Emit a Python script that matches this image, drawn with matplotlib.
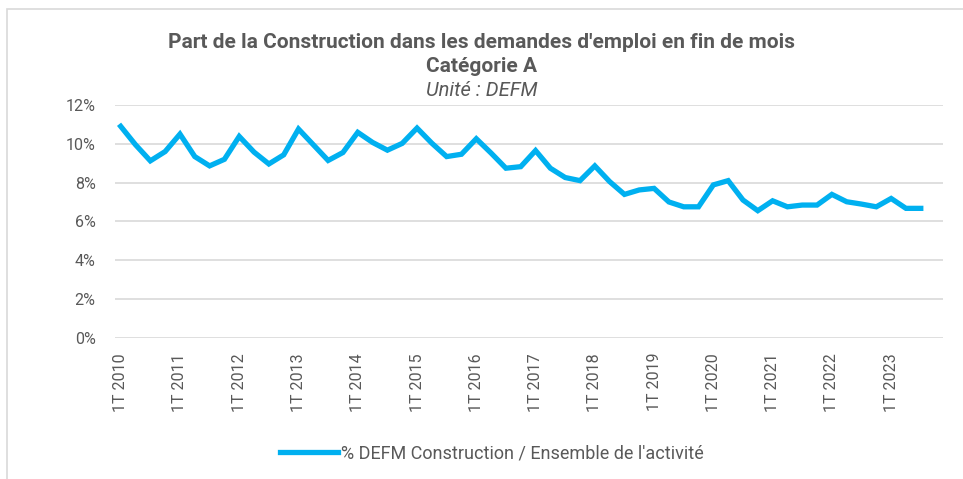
import matplotlib
matplotlib.use("Agg")
from matplotlib import pyplot as plt
from matplotlib.ticker import FuncFormatter
import numpy as np

# Quarterly share (%) of Construction in job seekers, 1T 2010 -> 3T 2023
years = list(range(2010, 2024))
quarters = [f"{q}T {y}" for y in years for q in (1, 2, 3, 4)][:55]
share = [10.9, 9.95, 9.12, 9.6,
         10.5, 9.34, 8.86, 9.2,
         10.38, 9.57, 8.96, 9.43,
         10.76, 9.95, 9.14, 9.55,
         10.59, 10.07, 9.67, 10.02,
         10.81, 10.03, 9.34, 9.46,
         10.26, 9.52, 8.74, 8.82,
         9.65, 8.74, 8.26, 8.1,
         8.86, 8.05, 7.39, 7.62,
         7.7, 7.0, 6.75, 6.75,
         7.88, 8.1, 7.1, 6.55,
         7.06, 6.75, 6.84, 6.84,
         7.39, 7.01, 6.89, 6.75,
         7.18, 6.67, 6.67]
series_label = "% DEFM Construction / Ensemble de l'activité"

grey = "#595959"
blue = "#00B0F0"
plt.rcParams['font.family'] = ['Roboto', 'DejaVu Sans']

fig = plt.figure(figsize=(9.63, 4.79), dpi=100)
ax = fig.add_axes([115/963, 1 - 337.7/479, 828/963, 232.7/479])

x = np.arange(len(share))
line, = ax.plot(x, share, color=blue, lw=3.8, solid_joinstyle="miter", label=series_label)

ax.set_ylim(0, 12)
ax.set_xlim(-0.385, 55.5)
ax.set_yticks(range(0, 13, 2))
ax.yaxis.set_major_formatter(FuncFormatter(lambda v, p: f"{int(v)}%"))
ax.set_xticks(x[::4])
ax.set_xticklabels(quarters[::4], rotation=90, va="top", ha="center")
ax.tick_params(axis="both", length=0, colors=grey, labelsize=11.5)
ax.tick_params(axis="x", pad=11)
ax.tick_params(axis="y", pad=14)
ax.grid(axis="y", color="#d9d9d9", lw=1.2)
ax.set_axisbelow(True)
for s in ax.spines.values():
    s.set_visible(False)

fig.text(0.5, 1 - 42/479, "Part de la Construction dans les demandes d'emploi en fin de mois",
         ha="center", va="center", fontsize=15, fontweight="bold", color=grey)
fig.text(0.5, 1 - 66/479, "Catégorie A", ha="center", va="center",
         fontsize=15, fontweight="bold", color=grey)
fig.text(0.5, 1 - 90/479, "Unité : DEFM", ha="center", va="center",
         fontsize=14.5, style="italic", color=grey)

leg = fig.legend(handles=[line], loc="center", bbox_to_anchor=(492/963, 1 - 453/479),
                 frameon=False, fontsize=13, handlelength=3.2, handletextpad=0.2)
for t in leg.get_texts():
    t.set_color(grey)

# light chart border
fig.add_artist(plt.Rectangle((7/963, -0.1), 1.2, 1 - 9/479 + 0.1, transform=fig.transFigure,
                             fill=False, edgecolor="#d9d9d9", lw=1.2))

fig.savefig("out.png", dpi=100)
